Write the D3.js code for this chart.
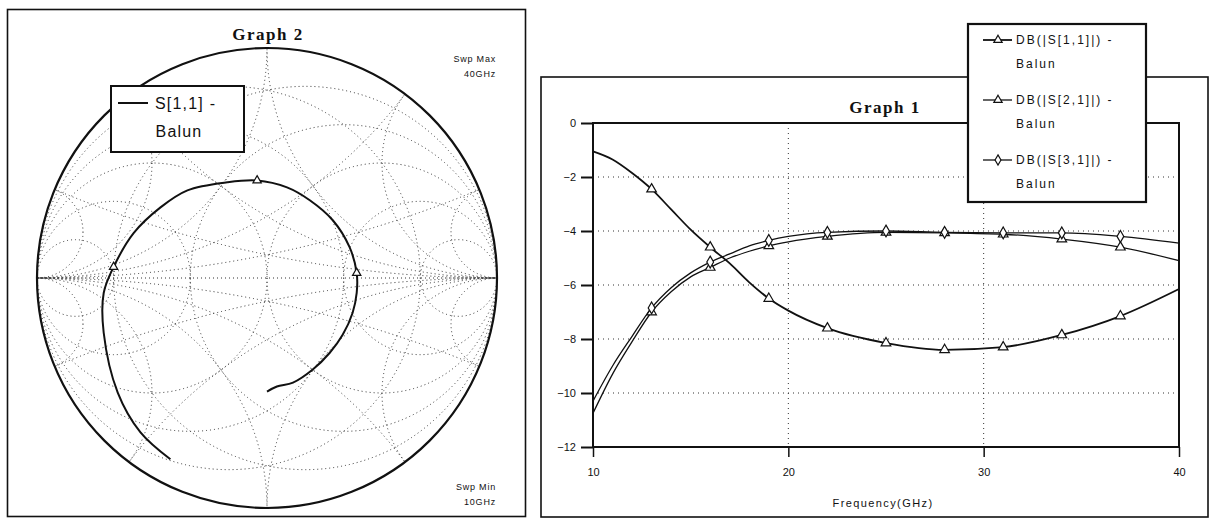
<!DOCTYPE html>
<html>
<head>
<meta charset="utf-8">
<script src="https://cdn.jsdelivr.net/npm/d3@7"></script>
<style>
  body { margin: 0; background: #fff; }
  svg { display: block; }
</style>
</head>
<body>
<svg id="chart" width="1211" height="520"></svg>
<script>
// ---- Graph 1: swept S-parameters of the balun, in dB ----
const freqGHz = [10, 11, 12, 13, 14, 15, 16, 17, 18, 19, 20, 22, 25, 28, 31, 34, 37, 40];
const s11dB   = [-1.05, -1.35, -1.85, -2.45, -3.2, -3.95, -4.6, -5.2, -5.9, -6.5, -6.95, -7.6, -8.15, -8.4, -8.3, -7.85, -7.15, -6.15];
const s21dB   = [-10.75, -9.3, -8.1, -7.0, -6.25, -5.7, -5.35, -5.0, -4.75, -4.55, -4.4, -4.2, -4.05, -4.07, -4.12, -4.3, -4.6, -5.1];
const s31dB   = [-10.3, -9.0, -7.9, -6.85, -6.1, -5.55, -5.15, -4.85, -4.55, -4.35, -4.2, -4.05, -4.0, -4.05, -4.07, -4.07, -4.2, -4.45];
const markerFreqs = [13, 16, 19, 22, 25, 28, 31, 34, 37];
const yTicks = [0, -2, -4, -6, -8, -10, -12];
const xTicks = [10, 20, 30, 40];
const seriesNames = ["DB(|S[1,1]|) -", "DB(|S[2,1]|) -", "DB(|S[3,1]|) -"];

// ---- Graph 2: S[1,1] reflection coefficient on the Smith chart ----
const gammaRe = [-0.420, -0.550, -0.649, -0.710, -0.710, -0.667, -0.580, -0.463, -0.346, -0.173, -0.043, 0.087, 0.186, 0.286, 0.359, 0.390, 0.390, 0.372, 0.329, 0.273, 0.199, 0.113, 0.043, 0.000];
const gammaIm = [-0.788, -0.671, -0.498, -0.238, -0.065, 0.048, 0.195, 0.307, 0.381, 0.416, 0.424, 0.394, 0.338, 0.251, 0.134, 0.022, -0.065, -0.152, -0.247, -0.325, -0.398, -0.455, -0.472, -0.494];
const gammaMarkerIdx = [5, 10, 15];
const gridR = [0.2, 0.5, 1, 2, 5];
const gridX = [0.2, 0.5, 1, 2, 5];

const svg = d3.select("#chart");
const ink = "#111";

// ================= Left panel: Smith chart =================
svg.append("rect").attr("x", 7.5).attr("y", 9.5).attr("width", 518).attr("height", 507)
  .attr("fill", "none").attr("stroke", ink).attr("stroke-width", 1.6);

const cx = 267, cy = 278, R = 230;
const gx = d3.scaleLinear().domain([-1, 1]).range([cx - R, cx + R]);
const gy = d3.scaleLinear().domain([-1, 1]).range([cy + R, cy - R]);

svg.append("defs").append("clipPath").attr("id", "unit")
  .append("circle").attr("cx", gx(0)).attr("cy", gy(0)).attr("r", R);

const grid = svg.append("g").attr("clip-path", "url(#unit)")
  .attr("fill", "none").attr("stroke", "#333").attr("stroke-width", 1)
  .attr("stroke-dasharray", "1,3");

// constant resistance / conductance circles
gridR.forEach(r => {
  grid.append("circle").attr("cx", gx(r / (1 + r))).attr("cy", gy(0)).attr("r", R / (1 + r));
  grid.append("circle").attr("cx", gx(-r / (1 + r))).attr("cy", gy(0)).attr("r", R / (1 + r));
});
// constant reactance / susceptance arcs
gridX.forEach(xv => {
  [1, -1].forEach(s => {
    grid.append("circle").attr("cx", gx(1)).attr("cy", gy(s / xv)).attr("r", R / xv);
    grid.append("circle").attr("cx", gx(-1)).attr("cy", gy(s / xv)).attr("r", R / xv);
  });
});
grid.append("line").attr("x1", gx(-1)).attr("x2", gx(1)).attr("y1", gy(0)).attr("y2", gy(0));

svg.append("circle").attr("cx", gx(0)).attr("cy", gy(0)).attr("r", R)
  .attr("fill", "none").attr("stroke", ink).attr("stroke-width", 2.2);

const idx = d3.range(gammaRe.length);
svg.append("path").datum(idx)
  .attr("d", d3.line().x(i => gx(gammaRe[i])).y(i => gy(gammaIm[i])).curve(d3.curveCatmullRom))
  .attr("fill", "none").attr("stroke", ink).attr("stroke-width", 2);

svg.selectAll(".smk").data(gammaMarkerIdx).join("path")
  .attr("transform", i => `translate(${gx(gammaRe[i])},${gy(gammaIm[i])})`)
  .attr("d", d3.symbol(d3.symbolTriangle, 30))
  .attr("fill", "#fff").attr("stroke", ink).attr("stroke-width", 1.2);

svg.append("text").attr("x", 268).attr("y", 40).attr("text-anchor", "middle")
  .attr("font-family", "Liberation Serif, DejaVu Serif, serif").attr("font-weight", "bold")
  .attr("font-size", 17).attr("letter-spacing", 1.5).attr("fill", ink).text("Graph 2");

const swp = svg.append("g").attr("font-family", "Liberation Sans, Arial, sans-serif")
  .attr("font-size", 9).attr("letter-spacing", 0.8).attr("text-anchor", "end").attr("fill", ink);
swp.append("text").attr("x", 496).attr("y", 62).text("Swp Max");
swp.append("text").attr("x", 496).attr("y", 77).text("40GHz");
swp.append("text").attr("x", 496).attr("y", 490).text("Swp Min");
swp.append("text").attr("x", 496).attr("y", 505).text("10GHz");

// legend for the Smith chart
svg.append("rect").attr("x", 111).attr("y", 86).attr("width", 133).attr("height", 66)
  .attr("fill", "#fff").attr("stroke", ink).attr("stroke-width", 2);
svg.append("line").attr("x1", 118).attr("x2", 148).attr("y1", 103).attr("y2", 103)
  .attr("stroke", ink).attr("stroke-width", 2);
const lg2 = svg.append("g").attr("font-family", "Liberation Sans, Arial, sans-serif")
  .attr("font-size", 16).attr("letter-spacing", 1.2).attr("fill", ink);
lg2.append("text").attr("x", 155).attr("y", 109).text("S[1,1] -");
lg2.append("text").attr("x", 179).attr("y", 137).attr("text-anchor", "middle").text("Balun");

// ================= Right panel: dB vs frequency =================
svg.append("rect").attr("x", 541).attr("y", 77).attr("width", 667).attr("height", 440)
  .attr("fill", "none").attr("stroke", ink).attr("stroke-width", 1.6);

const pLeft = 593, pRight = 1179, pTop = 123, pBottom = 447;
const x = d3.scaleLinear().domain([10, 40]).range([pLeft, pRight]);
const y = d3.scaleLinear().domain([-12, 0]).range([pBottom, pTop]);

// dotted grid
const g1 = svg.append("g").attr("stroke", "#333").attr("stroke-width", 1).attr("stroke-dasharray", "1,4");
g1.selectAll(".hg").data(yTicks.filter(t => t !== 0 && t !== -12)).join("line")
  .attr("x1", pLeft).attr("x2", pRight).attr("y1", d => y(d)).attr("y2", d => y(d));
g1.selectAll(".vg").data(xTicks.filter(t => t !== 10 && t !== 40)).join("line")
  .attr("x1", d => x(d)).attr("x2", d => x(d)).attr("y1", pTop).attr("y2", pBottom);

// axes
const yAxis = svg.append("g").attr("transform", `translate(${pLeft},0)`)
  .call(d3.axisLeft(y).tickValues(yTicks).tickSize(12).tickPadding(5).tickFormat(d3.format("d")));
const xAxis = svg.append("g").attr("transform", `translate(0,${pBottom})`)
  .call(d3.axisBottom(x).tickValues(xTicks).tickSize(10).tickPadding(11).tickFormat(d3.format("d")));
[yAxis, xAxis].forEach(a => {
  a.select(".domain").remove();
  a.selectAll(".tick line").attr("stroke", ink).attr("stroke-width", 2);
  a.selectAll("text").attr("font-family", "Liberation Sans, Arial, sans-serif")
    .attr("font-size", 11).attr("fill", ink);
});
xAxis.selectAll(".tick line").attr("stroke-width", 1.5);

// plot frame
svg.append("rect").attr("x", pLeft).attr("y", pTop).attr("width", pRight - pLeft).attr("height", pBottom - pTop)
  .attr("fill", "none").attr("stroke", ink).attr("stroke-width", 2);

svg.append("text").attr("x", 883).attr("y", 507).attr("text-anchor", "middle")
  .attr("font-family", "Liberation Sans, Arial, sans-serif").attr("font-size", 11)
  .attr("letter-spacing", 1.4).attr("fill", ink).text("Frequency(GHz)");

svg.append("text").attr("x", 885).attr("y", 113).attr("text-anchor", "middle")
  .attr("font-family", "Liberation Serif, DejaVu Serif, serif").attr("font-weight", "bold")
  .attr("font-size", 17).attr("letter-spacing", 1.5).attr("fill", ink).text("Graph 1");

const series = [
  { name: seriesNames[0], values: s11dB, width: 1.8, symbol: d3.symbolTriangle },
  { name: seriesNames[1], values: s21dB, width: 1.3, symbol: d3.symbolTriangle },
  { name: seriesNames[2], values: s31dB, width: 1.3, symbol: d3.symbolDiamond }
];

const line = d3.line().x(d => x(d[0])).y(d => y(d[1])).curve(d3.curveMonotoneX);
series.forEach(s => {
  const pts = freqGHz.map((f, i) => [f, s.values[i]]);
  svg.append("path").datum(pts).attr("d", line)
    .attr("fill", "none").attr("stroke", ink).attr("stroke-width", s.width);
  svg.append("g").selectAll("path")
    .data(pts.filter(p => markerFreqs.includes(p[0]))).join("path")
    .attr("transform", p => `translate(${x(p[0])},${y(p[1])})`)
    .attr("d", d3.symbol(s.symbol, 40))
    .attr("fill", "#fff").attr("stroke", ink).attr("stroke-width", 1.2);
});

// legend
svg.append("rect").attr("x", 968).attr("y", 24).attr("width", 178).attr("height", 178)
  .attr("fill", "#fff").attr("stroke", ink).attr("stroke-width", 2.2);
series.forEach((s, k) => {
  const ly = 40 + k * 60;
  svg.append("line").attr("x1", 983).attr("x2", 1012).attr("y1", ly).attr("y2", ly)
    .attr("stroke", ink).attr("stroke-width", s.width);
  svg.append("path").attr("transform", `translate(998,${ly})`)
    .attr("d", d3.symbol(s.symbol, 30))
    .attr("fill", "#fff").attr("stroke", ink).attr("stroke-width", 1.2);
  const t = svg.append("g").attr("font-family", "Liberation Sans, Arial, sans-serif")
    .attr("font-size", 12).attr("letter-spacing", 2).attr("fill", ink);
  t.append("text").attr("x", 1016).attr("y", ly + 4).text(s.name);
  t.append("text").attr("x", 1016).attr("y", ly + 28).text("Balun");
});
</script>
</body>
</html>
